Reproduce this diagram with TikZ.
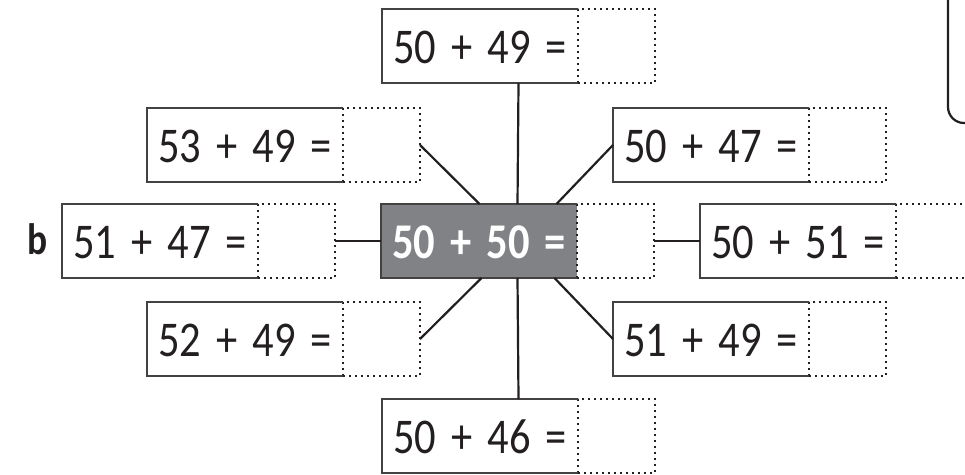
\documentclass[tikz,border=0pt]{standalone}
\usepackage{fontspec}
\setmainfont{Carlito}
\newfontfamily\eqfont[FakeStretch=0.85]{Carlito}
\usetikzlibrary{calc}
\definecolor{ink}{RGB}{35,31,32}
\definecolor{boxgray}{RGB}{128,130,133}
\newcommand\eqtxt[2]{#1\hskip0.3em+\hskip0.3em#2\hskip0.3em=}
\tikzset{
  eqn/.style={rectangle, minimum width=196pt, minimum height=74pt, inner sep=0pt, outer sep=0pt,
     text height=54pt, text depth=20pt, font=\eqfont\fontsize{50}{50}\selectfont, text=ink, anchor=north west},
  ans/.style={rectangle, draw=ink, line width=2.4pt, line cap=butt, dash pattern=on 2.2pt off 3.8pt,
     minimum width=77pt, minimum height=74pt, inner sep=0pt, outer sep=0pt, anchor=north west},
  frame/.style={draw=ink!85, line width=1.3pt},
  conn/.style={draw=ink, line width=2.2pt},
}
\newcommand\eqbox[4]{%
  \node[eqn] (#1) at (#2,#3) {\eqtxt#4};
  \node[ans] (#1a) at (#1.north east) {};
  \draw[frame] (#1.north east) -- (#1.north west) -- (#1.south west) -- (#1.south east);
  \coordinate (#1top) at ($(#1.north west)!.5!(#1a.north east)$);
  \coordinate (#1bot) at ($(#1.south west)!.5!(#1a.south east)$);
}
\begin{document}
\begin{tikzpicture}[x=1pt,y=-1pt]
\useasboundingbox (0,0) rectangle (965,474);
\eqbox{T}{382}{9}{{50}{49}}
\eqbox{UL}{147}{108}{{53}{49}}
\eqbox{UR}{613}{108}{{50}{47}}
\eqbox{L}{62}{204}{{51}{47}}
% centre box
\node[eqn, fill=boxgray, text=white, font=\eqfont\fontsize{50}{50}\selectfont\bfseries] (C) at (381,204) {\eqtxt{50}{50}};
\node[ans] (Ca) at (C.north east) {};
\draw[frame] (C.north east) -- (C.north west) -- (C.south west) -- (C.south east);
\coordinate (Ctop) at ($(C.north west)!.5!(Ca.north east)$);
\coordinate (Cbot) at ($(C.south west)!.5!(Ca.south east)$);
\eqbox{R}{700}{204}{{50}{51}}
\eqbox{LL}{147}{302}{{52}{49}}
\eqbox{LR}{613}{302}{{51}{49}}
\eqbox{B}{382}{399}{{50}{46}}
% connectors
\draw[conn] (Tbot) -- (Ctop);
\draw[conn] (ULa.east) -- ([xshift=-38pt]Ctop);
\draw[conn] ([xshift=39pt]Ctop) -- (UR.west);
\draw[conn] (La.east) -- (C.west);
\draw[conn] (Ca.east) -- (R.west);
\draw[conn] (LLa.east) -- ([xshift=-36pt]Cbot);
\draw[conn] ([xshift=37pt]Cbot) -- (LR.west);
\draw[conn] (Cbot) -- (Btop);
% label
\node[font=\eqfont\fontsize{44}{44}\selectfont\bfseries, text=ink, anchor=base] (lab) at (38,254) {b};
% partial rounded box top right
\coordinate (rb1) at (948,-5);
\coordinate (rb2) at (948,123);
\coordinate (rb3) at (985,123);
\draw[draw=ink, line width=2.2pt, rounded corners=16pt] (rb1) -- (rb2) -- (rb3);
\end{tikzpicture}
\end{document}
